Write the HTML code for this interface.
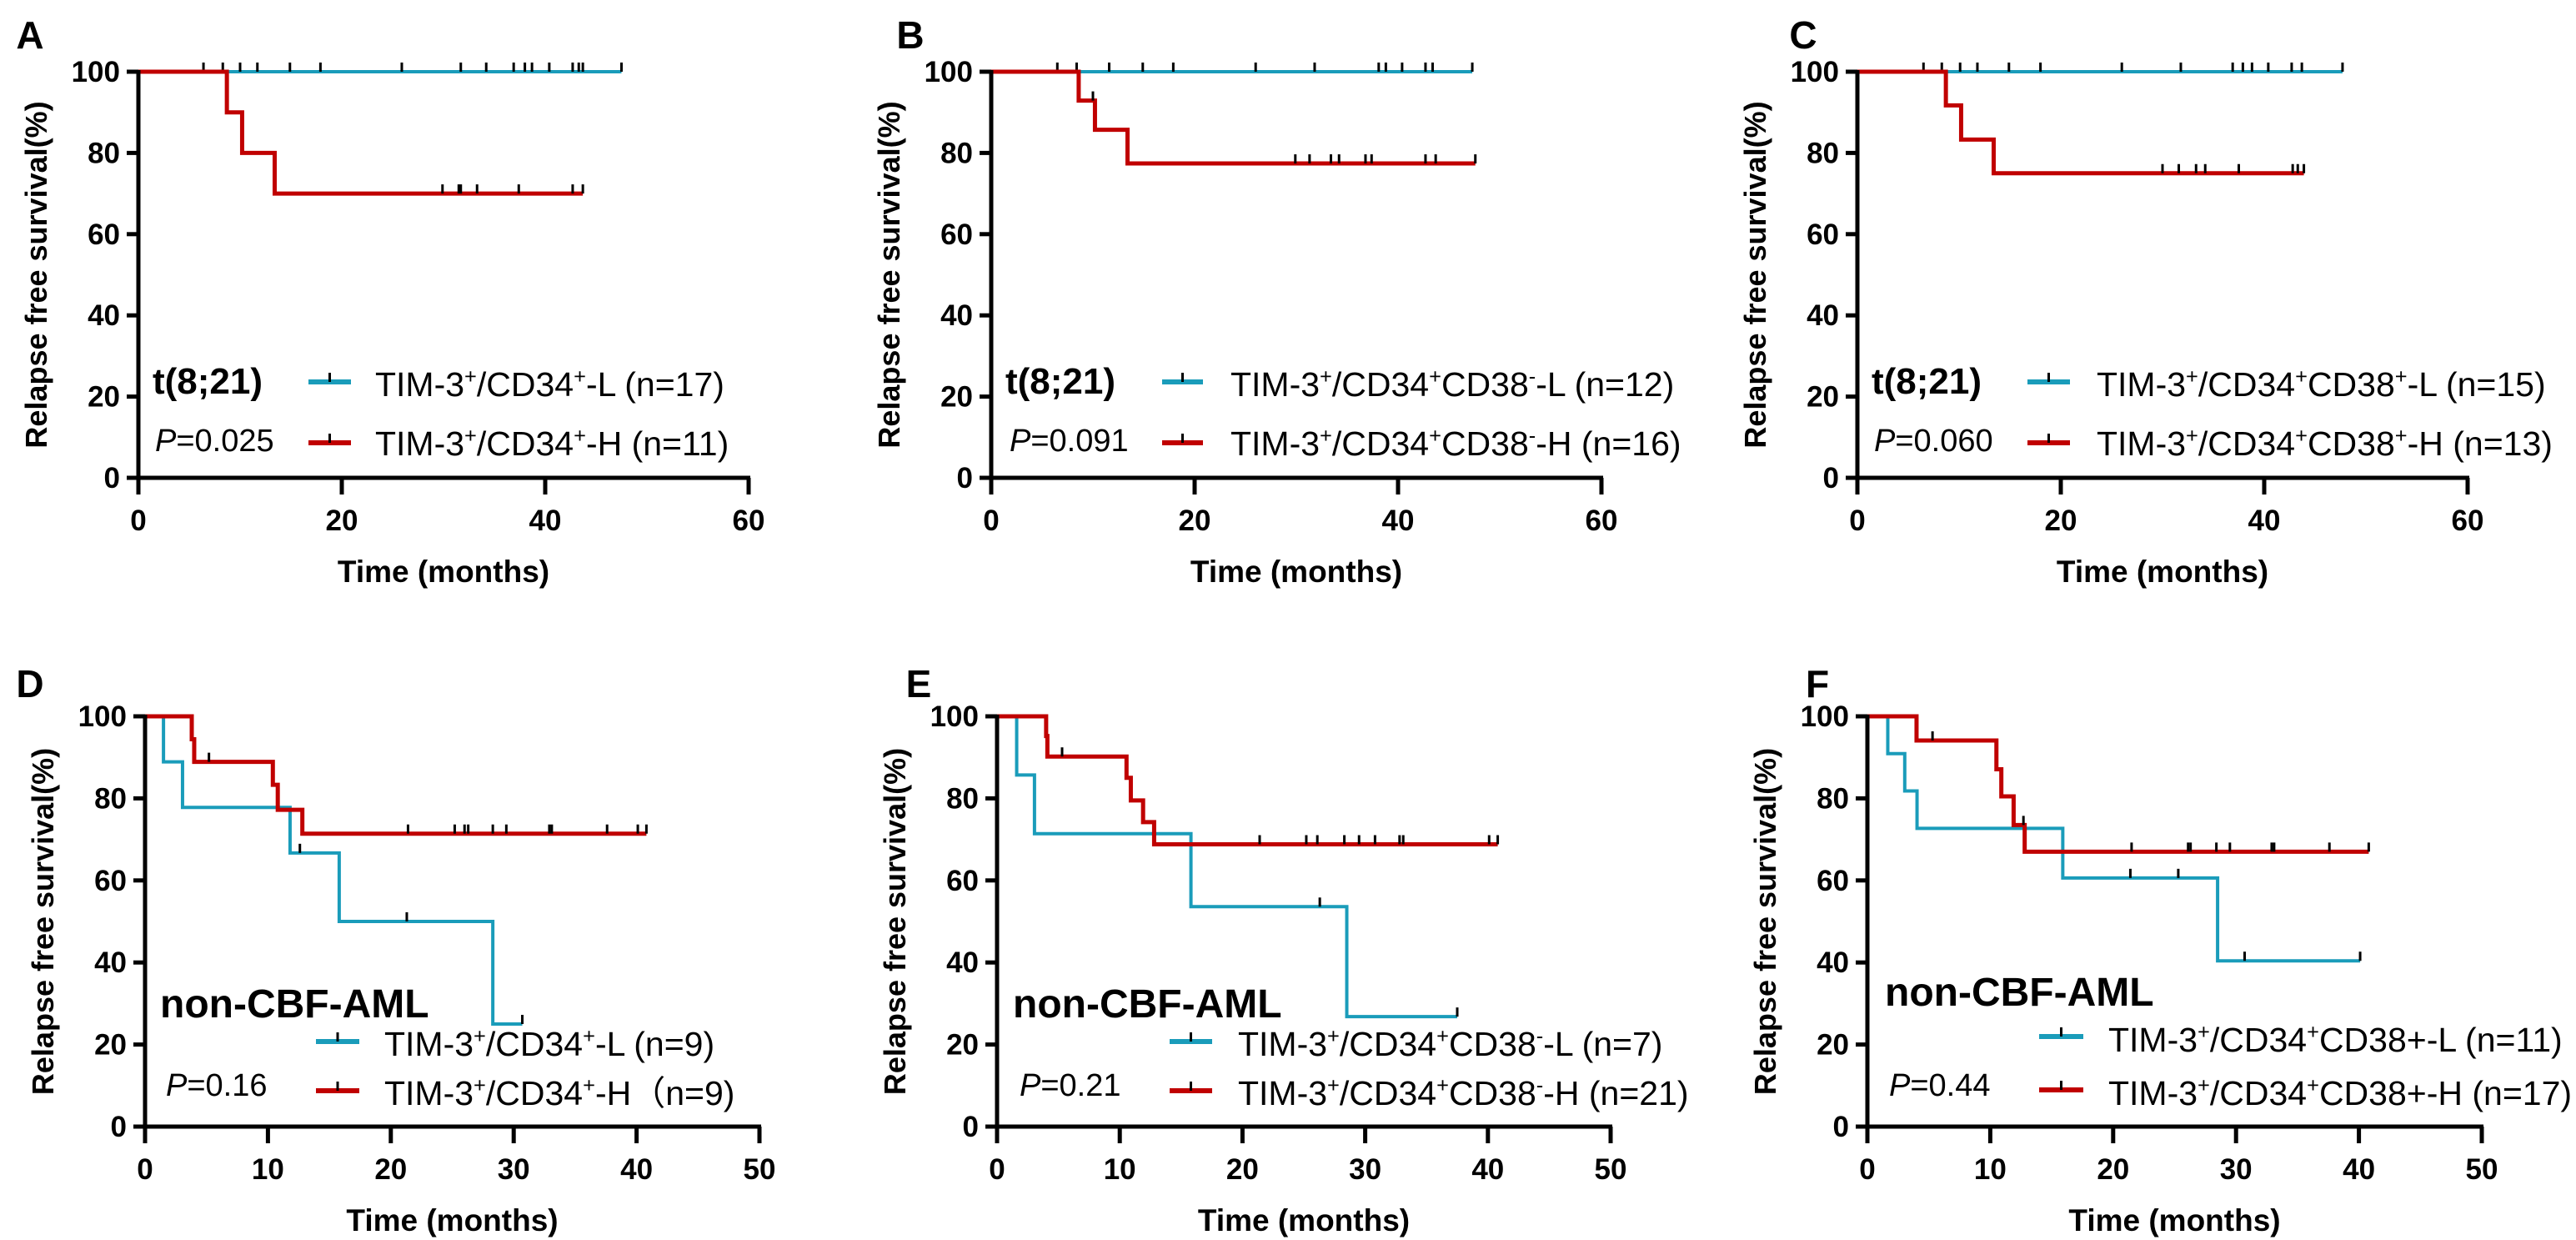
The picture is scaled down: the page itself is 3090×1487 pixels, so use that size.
<!DOCTYPE html>
<html><head><meta charset="utf-8"><style>
html,body{margin:0;padding:0;background:#fff;}
svg{display:block;font-family:"Liberation Sans","Noto Sans CJK SC",sans-serif;}
</style></head><body>
<svg id="fig" width="3090" height="1487" viewBox="0 0 3090 1487" xmlns="http://www.w3.org/2000/svg"></svg>
<script>
// ---- data (months, survival %) ----
const A_lowTimes=[]; const A_lowSurv=[]; const A_lowEnd=47.5;
const A_lowCens=[6.4,8.3,10.0,11.7,14.9,17.9,25.9,31.7,34.2,36.9,38.0,38.7,40.4,42.7,43.3,43.7,47.5];
const A_highTimes=[8.7,10.2,13.4]; const A_highSurv=[90,80,70]; const A_highEnd=43.7;
const A_highCens=[29.9,31.5,31.7,33.3,37.4,42.7,43.7];

const B_lowTimes=[]; const B_lowSurv=[]; const B_lowEnd=47.3;
const B_lowCens=[6.5,8.4,11.6,14.9,17.9,26.0,31.8,38.1,38.8,40.4,42.7,43.4,47.3];
const B_highTimes=[8.6,10.2,13.4]; const B_highSurv=[92.9,85.7,77.4]; const B_highEnd=47.6;
const B_highCens=[10.0,29.9,31.3,33.4,34.2,36.8,37.4,42.7,43.7,47.6];

const C_lowTimes=[]; const C_lowSurv=[]; const C_lowEnd=47.7;
const C_lowCens=[6.5,8.3,10.1,11.8,14.9,18.0,26.0,31.8,36.9,37.9,38.8,40.4,42.7,43.7,47.7];
const C_highTimes=[8.7,10.2,13.4]; const C_highSurv=[91.7,83.3,75]; const C_highEnd=43.9;
const C_highCens=[30.0,31.6,33.3,34.2,37.5,42.8,43.3,43.9];

const D_lowTimes=[1.5,3.05,11.8,15.8,28.3]; const D_lowSurv=[88.9,77.8,66.7,50,25]; const D_lowEnd=30.7;
const D_lowCens=[12.6,21.3,30.7];
const D_highTimes=[3.8,4.0,10.4,10.8,12.8]; const D_highSurv=[94.4,88.9,83.3,77.2,71.4]; const D_highEnd=40.8;
const D_highCens=[5.2,21.4,25.2,26.0,26.3,28.3,29.4,32.9,33.1,37.6,40.1,40.8];

const E_lowTimes=[1.6,3.05,15.8,28.5]; const E_lowSurv=[85.7,71.4,53.6,26.8]; const E_lowEnd=37.5;
const E_lowCens=[26.3,37.5];
const E_highTimes=[4.0,4.1,10.55,10.9,11.9,12.8]; const E_highSurv=[95.2,90.2,85.0,79.5,74.2,68.8]; const E_highEnd=40.8;
const E_highCens=[5.3,21.4,25.2,26.1,28.3,29.5,30.8,32.8,33.1,40.1,40.8];

const F_lowTimes=[1.66,3.04,4.04,15.9,28.5]; const F_lowSurv=[90.9,81.8,72.7,60.6,40.4]; const F_lowEnd=40.1;
const F_lowCens=[21.4,25.3,30.7,40.1];
const F_highTimes=[4.0,10.5,10.9,11.9,12.8]; const F_highSurv=[94.1,87.1,80.5,73.5,67.0]; const F_highEnd=40.8;
const F_highCens=[5.3,12.7,21.5,26.1,26.3,28.4,29.5,32.9,33.1,37.6,40.8];

const yTickLabels=[0,20,40,60,80,100];
const xTicksTop=[0,20,40,60];
const xTicksBottom=[0,10,20,30,40,50];

const CYAN="#1a9cba", RED="#c00000";
const NS="http://www.w3.org/2000/svg";
const svg=document.getElementById('fig');

function el(tag,attrs,parent){const e=document.createElementNS(NS,tag);for(const k in attrs)e.setAttribute(k,attrs[k]);(parent||svg).appendChild(e);return e;}

function richText(g,x,y,segs,size,fill){
  const t=el('text',{x:x,y:y,'font-size':size,fill:fill||'#000'},g);
  segs.forEach(s=>{
    const ts=el('tspan',{},t);
    if(s.sup){ts.setAttribute('font-size',size*0.62);ts.setAttribute('dy',-size*0.38);}
    else if(s.after){ts.setAttribute('dy',size*0.38);}
    ts.textContent=s.t;
  });
  return t;
}
function segs(parts){
  const out=[];let prevSup=false;
  parts.forEach((p,i)=>{const sup=i%2===1;out.push({t:p,sup:sup,after:!sup&&prevSup});prevSup=sup;});
  return out;
}

const panels=[
 {id:'A',x0:166,x1:898,y0:573,y1:86,xmax:60,xt:xTicksTop,lab:[36,42],grp:'t(8;21)',grpX:183,grpY:472,grpSize:44,pX:186,pY:541,p:'0.025',
  legX1:370,legX2:421,legY:[458,531],txtX:450,txtY:[475,546],
  low:[A_lowTimes,A_lowSurv,A_lowEnd,A_lowCens],high:[A_highTimes,A_highSurv,A_highEnd,A_highCens],
  lbl:[['TIM-3','+','/CD34','+','-L (n=17)'],['TIM-3','+','/CD34','+','-H (n=11)']]},
 {id:'B',x0:1189,x1:1921,y0:573,y1:86,xmax:60,xt:xTicksTop,lab:[1092,42],grp:'t(8;21)',grpX:1206,grpY:472,grpSize:44,pX:1211,pY:541,p:'0.091',
  legX1:1394,legX2:1443,legY:[458,531],txtX:1476,txtY:[475,546],
  low:[B_lowTimes,B_lowSurv,B_lowEnd,B_lowCens],high:[B_highTimes,B_highSurv,B_highEnd,B_highCens],
  lbl:[['TIM-3','+','/CD34','+','CD38','-','-L (n=12)'],['TIM-3','+','/CD34','+','CD38','-','-H (n=16)']]},
 {id:'C',x0:2228,x1:2960,y0:573,y1:86,xmax:60,xt:xTicksTop,lab:[2163,42],grp:'t(8;21)',grpX:2245,grpY:472,grpSize:44,pX:2248,pY:541,p:'0.060',
  legX1:2432,legX2:2483,legY:[458,531],txtX:2515,txtY:[475,546],
  low:[C_lowTimes,C_lowSurv,C_lowEnd,C_lowCens],high:[C_highTimes,C_highSurv,C_highEnd,C_highCens],
  lbl:[['TIM-3','+','/CD34','+','CD38','+','-L (n=15)'],['TIM-3','+','/CD34','+','CD38','+','-H (n=13)']]},
 {id:'D',x0:174,x1:911,y0:1351,y1:859,xmax:50,xt:xTicksBottom,lab:[36,820],grp:'non-CBF-AML',grpX:192,grpY:1220,grpSize:48,pX:199,pY:1314,p:'0.16',
  legX1:379,legX2:431,legY:[1249,1308],txtX:461,txtY:[1266,1325],
  low:[D_lowTimes,D_lowSurv,D_lowEnd,D_lowCens],high:[D_highTimes,D_highSurv,D_highEnd,D_highCens],
  lbl:[['TIM-3','+','/CD34','+','-L (n=9)'],['TIM-3','+','/CD34','+','-H（n=9)']]},
 {id:'E',x0:1196,x1:1932,y0:1351,y1:859,xmax:50,xt:xTicksBottom,lab:[1102,820],grp:'non-CBF-AML',grpX:1215,grpY:1220,grpSize:48,pX:1223,pY:1314,p:'0.21',
  legX1:1403,legX2:1454,legY:[1249,1308],txtX:1485,txtY:[1266,1325],
  low:[E_lowTimes,E_lowSurv,E_lowEnd,E_lowCens],high:[E_highTimes,E_highSurv,E_highEnd,E_highCens],
  lbl:[['TIM-3','+','/CD34','+','CD38','-','-L (n=7)'],['TIM-3','+','/CD34','+','CD38','-','-H (n=21)']]},
 {id:'F',x0:2240,x1:2977,y0:1351,y1:859,xmax:50,xt:xTicksBottom,lab:[2180,820],grp:'non-CBF-AML',grpX:2261,grpY:1206,grpSize:48,pX:2266,pY:1314,p:'0.44',
  legX1:2446,legX2:2499,legY:[1243,1307],txtX:2529,txtY:[1261,1325],
  low:[F_lowTimes,F_lowSurv,F_lowEnd,F_lowCens],high:[F_highTimes,F_highSurv,F_highEnd,F_highCens],
  lbl:[['TIM-3','+','/CD34','+','CD38+-L (n=11)'],['TIM-3','+','/CD34','+','CD38+-H (n=17)']]}
];

panels.forEach(P=>{
  const g=el('g',{});
  
  
  const X=t=>P.x0+(P.x1-P.x0)*t/P.xmax;
  const Y=v=>P.y0+(P.y1-P.y0)*v/100;

  const lab=el('text',{x:P.lab[0],y:P.lab[1]+16,'font-size':46,'font-weight':'bold','text-anchor':'middle'},g);
  
  
  lab.textContent=P.id;

  function curve(d,color,w,name){
    const [times,surv,end,cens]=d;
    let path='M'+X(0)+','+Y(100);
    times.forEach((t,i)=>{path+=' H'+X(t)+' V'+Y(surv[i]);});
    path+=' H'+X(end);
    const p=el('path',{d:path,fill:'none',stroke:color,'stroke-width':w},g);
    
    
    cens.forEach(c=>{
      let s=100;times.forEach((t,i)=>{if(t<=c)s=surv[i];});
      const m=el('line',{x1:X(c),x2:X(c),y1:Y(s),y2:Y(s)-11,stroke:'#000','stroke-width':3},g);
      
      
    });
  }
  curve(P.low,CYAN,4,'low-group');
  curve(P.high,RED,5,'high-group');

  const ya=el('line',{x1:P.x0,x2:P.x0,y1:P.y1-2,y2:P.y0+2,stroke:'#000','stroke-width':5},g);
  
  
  const xa=el('line',{x1:P.x0-14,x2:P.x1+2,y1:P.y0,y2:P.y0,stroke:'#000','stroke-width':5},g);
  
  
  yTickLabels.forEach(v=>{
    el('line',{x1:P.x0-14,x2:P.x0,y1:Y(v),y2:Y(v),stroke:'#000','stroke-width':5},g);
    const t=el('text',{x:P.x0-22,y:Y(v)+12,'font-size':35,'font-weight':'bold','text-anchor':'end'},g);
    
    
    t.textContent=v;
  });
  P.xt.forEach(v=>{
    el('line',{x1:X(v),x2:X(v),y1:P.y0,y2:P.y0+20,stroke:'#000','stroke-width':5},g);
    const t=el('text',{x:X(v),y:P.y0+63,'font-size':35,'font-weight':'bold','text-anchor':'middle'},g);
    
    
    t.textContent=v;
  });
  const xt=el('text',{x:(P.x0+P.x1)/2,y:P.y0+125,'font-size':37,'font-weight':'bold','text-anchor':'middle'},g);
  
  
  xt.textContent='Time (months)';
  const cy=(P.y0+P.y1)/2;
  const yx=P.x0-110;
  const yt=el('text',{x:yx,y:cy,'font-size':36,'font-weight':'bold','text-anchor':'middle',transform:'rotate(-90 '+yx+' '+cy+')'},g);
  
  
  yt.textContent='Relapse free survival(%)';

  const gl=el('text',{x:P.grpX,y:P.grpY,'font-size':P.grpSize,'font-weight':'bold'},g);
  
  
  gl.textContent=P.grp;
  const pv=el('text',{x:P.pX,y:P.pY,'font-size':38},g);
  
  
  const pi=el('tspan',{'font-style':'italic'},pv);pi.textContent='P';
  const pr=el('tspan',{},pv);pr.textContent='='+P.p;

  [CYAN,RED].forEach((c,i)=>{
    const lg=el('g',{},g);
    
    
    el('line',{x1:P.legX1,x2:P.legX2,y1:P.legY[i],y2:P.legY[i],stroke:c,'stroke-width':6},lg);
    const mx=(P.legX1+P.legX2)/2;
    el('line',{x1:mx,x2:mx,y1:P.legY[i],y2:P.legY[i]-11,stroke:'#000','stroke-width':3},lg);
    richText(lg,P.txtX,P.txtY[i],segs(P.lbl[i]),41,'#000');
  });
});
</script>
</body></html>
